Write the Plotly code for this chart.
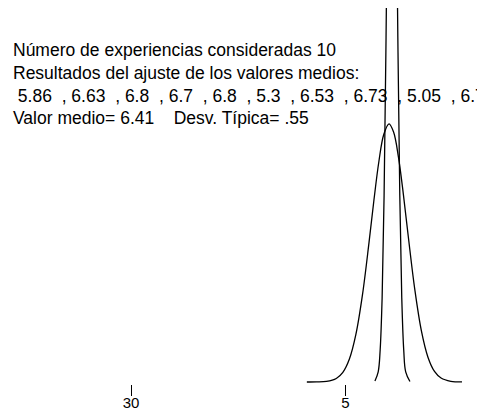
import plotly.graph_objects as go

# ---- data ----
n_experiencias = 10
valores_medios = [5.86, 6.63, 6.8, 6.7, 6.8, 5.3, 6.53, 6.73, 5.05, 6.73]
valor_medio = 6.41
desv_tipica = 0.55

# wide curve (distribution of the individual values)
ancha_x = [3.90, 4.20, 4.50, 4.80, 5.00, 5.20, 5.40, 5.60, 5.80, 5.95, 6.10, 6.25,
           6.41, 6.55, 6.70, 6.85, 7.00, 7.20, 7.40, 7.60, 7.80, 8.00, 8.30, 8.64]
ancha_y = [0.0000, 0.0002, 0.0017, 0.0100, 0.0271, 0.0645, 0.1343, 0.2453, 0.3922,
           0.5113, 0.6189, 0.6954, 0.7254, 0.7023, 0.6313, 0.5267, 0.4080, 0.2586,
           0.1436, 0.0698, 0.0297, 0.0111, 0.0020, 0.0002]

# narrow curve (distribution of the mean)
estrecha_x = [5.98, 6.08, 6.14, 6.20, 6.26, 6.32, 6.38, 6.44, 6.50,
              6.56, 6.62, 6.68, 6.74, 6.80, 6.86, 6.92, 7.05]
estrecha_y = [0.0029, 0.0287, 0.0900, 0.2370, 0.5230, 0.9680, 1.5040, 1.9580, 2.1380,
              1.9580, 1.5040, 0.9680, 0.5230, 0.2370, 0.0900, 0.0287, 0.0013]

tick_values = [-1.47, 5.08]
tick_labels = ["30", "5"]

# ---- figure ----
FONT = "Liberation Sans, Arial, sans-serif"
# the page body has an 8px margin, so the figure is drawn 8px smaller
OFF = 8
W, H = 485 - OFF, 410 - OFF
M_T, M_B = 0, 26

fig = go.Figure()
fig.add_trace(go.Scatter(x=ancha_x, y=ancha_y, mode="lines",
                         line=dict(color="black", width=1.3, shape="spline"),
                         hoverinfo="skip", showlegend=False))
fig.add_trace(go.Scatter(x=estrecha_x, y=estrecha_y, mode="lines",
                         line=dict(color="black", width=1.3, shape="spline"),
                         hoverinfo="skip", showlegend=False))

lineas = [
    f"Número de experiencias consideradas {n_experiencias}",
    "Resultados del ajuste de los valores medios:",
    " " + "  , ".join(f"{v:g}" for v in valores_medios),
    f"Valor medio= {valor_medio:g}    Desv. Típica= {str(desv_tipica).lstrip('0')}",
]

plot_h = H - M_T - M_B
def py(pix):
    return (H - M_B - pix) / plot_h

fig.add_annotation(text="<br>".join(lineas), xref="paper", yref="paper",
                   x=3 / W, y=py(30), xanchor="left", yanchor="top", align="left",
                   showarrow=False, font=dict(family=FONT, size=17.5, color="black"))

px_per_unit = 32.73
centro_px = 389 - OFF
x_lo = valor_medio - centro_px / px_per_unit
x_hi = valor_medio + (W - centro_px) / px_per_unit
y_px = 355.9
y_lo = -2 / y_px
y_hi = (plot_h - 2) / y_px

fig.update_layout(
    width=W, height=H,
    margin=dict(l=0, r=0, t=M_T, b=M_B, autoexpand=False),
    paper_bgcolor="white", plot_bgcolor="white",
    xaxis=dict(range=[x_lo, x_hi], showgrid=False, zeroline=False, showline=False,
               tickmode="array", tickvals=tick_values, ticktext=tick_labels,
               ticks="outside", ticklen=11, tickwidth=1, tickcolor="black",
               ticklabelstandoff=-6,
               tickfont=dict(family=FONT, size=15, color="black"), fixedrange=True),
    yaxis=dict(range=[y_lo, y_hi], visible=False, fixedrange=True),
    showlegend=False,
)

fig.write_html("out.html")
